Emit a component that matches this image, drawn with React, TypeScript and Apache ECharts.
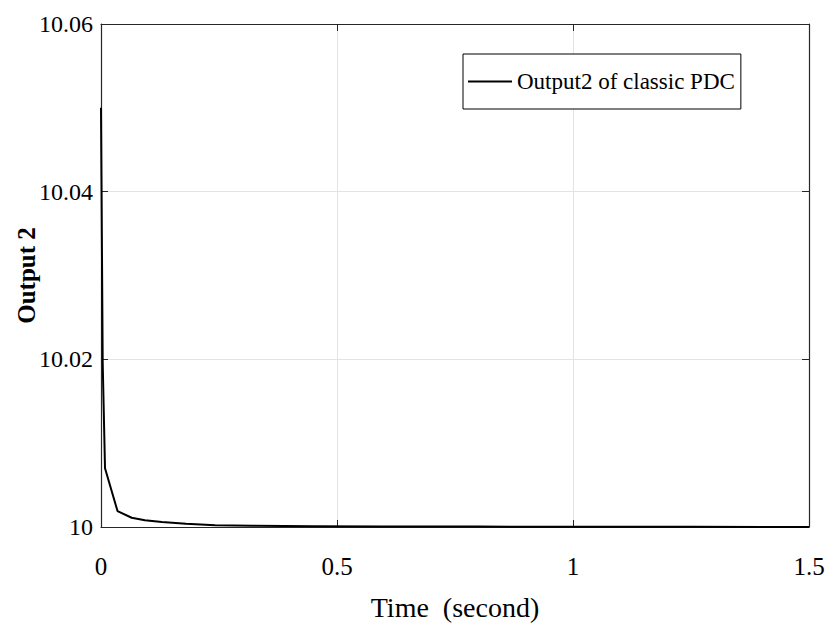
import React, { useEffect, useRef } from "react";
import * as echarts from "echarts";

const timeValues = [0, 0.0006, 0.0036, 0.0085, 0.035, 0.065, 0.093, 0.129, 0.18, 0.242, 0.32, 0.45, 0.6, 0.8, 1.0, 1.25, 1.5];
const outputValues = [10.05, 10.05, 10.0196, 10.007, 10.0019, 10.0011, 10.0008, 10.0006, 10.0004, 10.0002, 10.00014, 10.0001, 10.00007, 10.00005, 10.00003, 10.00002, 10.00001];
const xTicks = [0, 0.5, 1, 1.5];
const yTicks = [10, 10.02, 10.04, 10.06];
const seriesName = "Output2 of classic PDC";

const FONT = "'Liberation Serif', 'Times New Roman', serif";

export default function App() {
  const ref = useRef<HTMLDivElement>(null);
  useEffect(() => {
    if (!ref.current) return;
    const chart = echarts.init(ref.current, null, { renderer: "svg" });
    const data = timeValues.map((t, i) => [t, outputValues[i]]);
    const fmt = (v: number) => String(parseFloat(v.toFixed(2)));
    chart.setOption({
      animation: false,
      backgroundColor: "#ffffff",
      grid: { left: 101, right: 20, top: 24, bottom: 114, containLabel: false, outerBoundsMode: "none" },
      legend: {
        data: [seriesName],
        left: 463,
        top: 54,
        orient: "vertical",
        icon: "rect",
        padding: [16, 6, 16, 5],
        itemWidth: 44,
        itemHeight: 2,
        itemGap: 0,
        borderColor: "#000",
        borderWidth: 1,
        backgroundColor: "#fff",
        textStyle: { fontFamily: FONT, fontSize: 23, color: "#000" },
      },
      xAxis: [
        {
          type: "value",
          min: xTicks[0],
          max: xTicks[xTicks.length - 1],
          interval: 0.5,
          name: "Time  (second)",
          nameLocation: "middle",
          nameGap: 66,
          nameTextStyle: { fontFamily: FONT, fontSize: 28, color: "#000" },
          axisLine: { show: true, onZero: false, lineStyle: { color: "#262626", width: 1.2 } },
          axisTick: { show: true, inside: true, length: 7, lineStyle: { color: "#262626" } },
          axisLabel: { fontFamily: FONT, fontSize: 25, color: "#000", margin: 27, formatter: fmt },
          splitLine: { show: true, lineStyle: { color: "#e3e3e3", width: 1 } },
        },
        {
          type: "value",
          position: "top",
          min: xTicks[0],
          max: xTicks[xTicks.length - 1],
          interval: 0.5,
          axisLine: { show: true, onZero: false, lineStyle: { color: "#262626", width: 1.2 } },
          axisTick: { show: true, inside: true, length: 7, lineStyle: { color: "#262626" } },
          axisLabel: { show: false },
          splitLine: { show: false },
        },
      ],
      yAxis: [
        {
          type: "value",
          min: yTicks[0],
          max: yTicks[yTicks.length - 1],
          interval: 0.02,
          name: "Output 2",
          nameLocation: "middle",
          nameGap: 62,
          nameMoveOverlap: false,
          nameRotate: 90,
          nameTextStyle: { fontFamily: FONT, fontSize: 25, fontWeight: "bold", color: "#000" },
          axisLine: { show: true, onZero: false, lineStyle: { color: "#262626", width: 1.2 } },
          axisTick: { show: true, inside: true, length: 7, lineStyle: { color: "#262626" } },
          axisLabel: { fontFamily: FONT, fontSize: 24, color: "#000", margin: 8, formatter: fmt },
          splitLine: { show: true, lineStyle: { color: "#e3e3e3", width: 1 } },
        },
        {
          type: "value",
          position: "right",
          min: yTicks[0],
          max: yTicks[yTicks.length - 1],
          interval: 0.02,
          axisLine: { show: true, onZero: false, lineStyle: { color: "#262626", width: 1.2 } },
          axisTick: { show: true, inside: true, length: 7, lineStyle: { color: "#262626" } },
          axisLabel: { show: false },
          splitLine: { show: false },
        },
      ],
      series: [
        {
          name: seriesName,
          type: "line",
          data,
          symbol: "none",
          smooth: false,
          lineStyle: { color: "#000", width: 2 },
          itemStyle: { color: "#000" },
        },
      ],
    });
    return () => chart.dispose();
  }, []);
  return <div ref={ref} style={{ width: 829, height: 641, position: "absolute", left: 0, top: 0 }} />;
}
